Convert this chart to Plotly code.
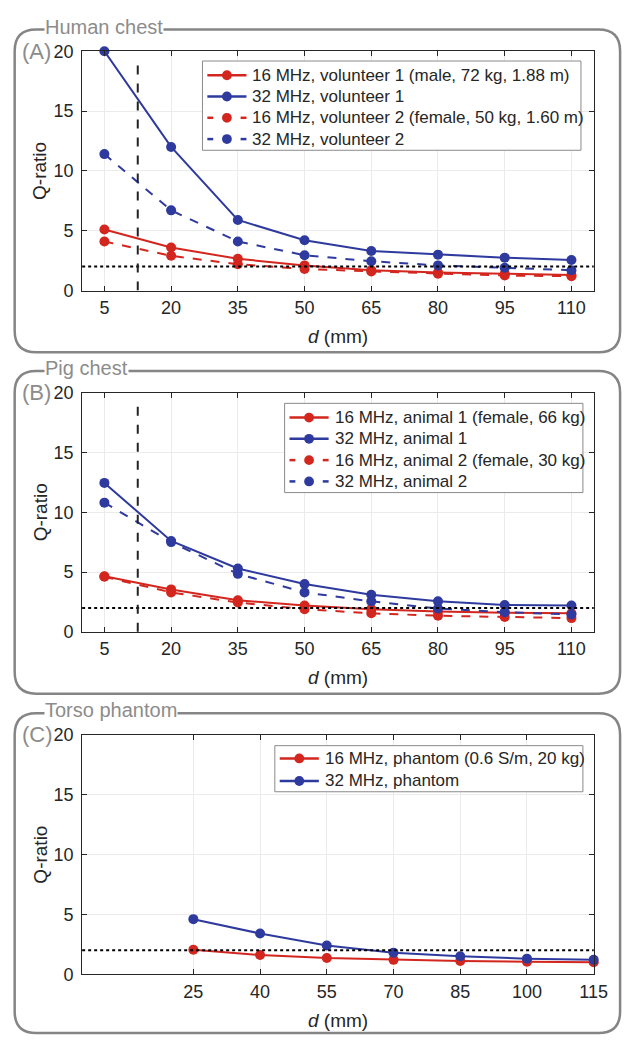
import plotly.graph_objects as go

# ---- data -------------------------------------------------------------
d_chest = [5, 20, 35, 50, 65, 80, 95, 110]
d_phantom = [25, 40, 55, 70, 85, 100, 115]

human_16_v1 = [5.1, 3.6, 2.65, 2.1, 1.7, 1.5, 1.4, 1.3]
human_32_v1 = [20.0, 12.0, 5.9, 4.2, 3.3, 3.0, 2.75, 2.55]
human_16_v2 = [4.1, 2.9, 2.2, 1.8, 1.6, 1.4, 1.25, 1.2]
human_32_v2 = [11.4, 6.7, 4.1, 2.95, 2.45, 2.1, 1.9, 1.7]

pig_16_a1 = [4.65, 3.55, 2.65, 2.2, 1.9, 1.7, 1.6, 1.55]
pig_32_a1 = [12.45, 7.6, 5.3, 4.0, 3.1, 2.55, 2.25, 2.2]
pig_16_a2 = [4.6, 3.3, 2.45, 1.9, 1.55, 1.35, 1.25, 1.15]
pig_32_a2 = [10.8, 7.5, 4.85, 3.3, 2.55, 1.95, 1.65, 1.45]

phantom_16 = [2.05, 1.6, 1.35, 1.2, 1.1, 1.05, 1.0]
phantom_32 = [4.6, 3.4, 2.4, 1.8, 1.5, 1.3, 1.2]

chest_ticks = [5, 20, 35, 50, 65, 80, 95, 110]
phantom_ticks = [25, 40, 55, 70, 85, 100, 115]
q_ticks = [0, 5, 10, 15, 20]

q_threshold = 2.0      # horizontal dotted reference
d_marker = 12.5        # vertical dashed reference (chest panels)
d_marker_top = 19.4

panel_titles = ["Human chest", "Pig chest", "Torso phantom"]
panel_letters = ["(A)", "(B)", "(C)"]

# ---- styling ----------------------------------------------------------
W, H = 638, 1046
RED = "#D3261E"
BLUE = "#2E3A9E"
INK = "#262626"
FRAME = "#858585"
FONT = "Liberation Sans, Arial, sans-serif"


def px_x(x):
    return x / W


def px_y(y):
    return 1 - y / H


# plot areas in pixels: (top, bottom)
plot_left, plot_right = 84, 607
rows = [(42, 286), (390, 634), (739, 983)]
frames = [(20, 349), (368, 697), (717, 1043)]
frame_left, frame_right = 15, 634
# legend boxes: (left, top, right, bottom, first-row offset, row pitch)
legend_boxes = [
    (207, 52, 594, 143, 14.5, 21.7),
    (291, 401, 596, 492, 14.5, 21.7),
    (281, 750, 596, 797, 13.0, 23.0),
]

fig = go.Figure()

series = [
    # (row, x, y, name, color, dash)
    (1, d_chest, human_16_v1, "16 MHz, volunteer 1 (male, 72 kg, 1.88 m)", RED, "solid"),
    (1, d_chest, human_32_v1, "32 MHz, volunteer 1", BLUE, "solid"),
    (1, d_chest, human_16_v2, "16 MHz, volunteer 2 (female, 50 kg, 1.60 m)", RED, "dash"),
    (1, d_chest, human_32_v2, "32 MHz, volunteer 2", BLUE, "dash"),
    (2, d_chest, pig_16_a1, "16 MHz, animal 1 (female, 66 kg)", RED, "solid"),
    (2, d_chest, pig_32_a1, "32 MHz, animal 1", BLUE, "solid"),
    (2, d_chest, pig_16_a2, "16 MHz, animal 2 (female, 30 kg)", RED, "dash"),
    (2, d_chest, pig_32_a2, "32 MHz, animal 2", BLUE, "dash"),
    (3, d_phantom, phantom_16, "16 MHz, phantom (0.6 S/m, 20 kg)", RED, "solid"),
    (3, d_phantom, phantom_32, "32 MHz, phantom", BLUE, "solid"),
]

for row, xs, ys, name, color, dash in series:
    sfx = "" if row == 1 else str(row)
    fig.add_trace(go.Scatter(
        x=xs, y=ys, name=name, mode="lines+markers",
        line=dict(color=color, width=2, dash=dash),
        marker=dict(color=color, size=10),
        xaxis="x" + sfx, yaxis="y" + sfx,
        showlegend=False, cliponaxis=False,
    ))

axis_common = dict(
    showline=True, linecolor=INK, linewidth=1, mirror="ticks",
    ticks="inside", ticklen=5, tickcolor=INK, tickwidth=1,
    showgrid=True, gridcolor="#ebebeb", gridwidth=1, zeroline=False,
    tickfont=dict(family=FONT, size=18, color=INK),
)

shapes, annotations = [], []
layout = dict(
    width=W, height=H, margin=dict(l=0, r=0, t=0, b=0),
    paper_bgcolor="white", plot_bgcolor="white",
    font=dict(family=FONT, color=INK), showlegend=False,
)

for i, (top, bottom) in enumerate(rows):
    sfx = "" if i == 0 else str(i + 1)
    ticks = phantom_ticks if i == 2 else chest_ticks
    layout["xaxis" + sfx] = dict(
        axis_common, domain=[px_x(plot_left), px_x(plot_right)],
        range=[0, 115], tickvals=ticks, ticklabelstandoff=1,
        anchor="y" + sfx,
    )
    layout["yaxis" + sfx] = dict(
        axis_common, domain=[px_y(bottom), px_y(top)],
        range=[0, 20], tickvals=q_ticks, ticklabelstandoff=4,
        anchor="x" + sfx,
    )

    xr, yr = "x" + sfx, "y" + sfx
    # threshold line across the full axis width
    shapes.append(dict(
        type="line", xref=xr + " domain", yref=yr,
        x0=0, x1=1, y0=q_threshold, y1=q_threshold,
        line=dict(color="black", width=2, dash="dot"), layer="above",
    ))
    if i < 2:
        shapes.append(dict(
            type="line", xref=xr, yref=yr,
            x0=d_marker, x1=d_marker, y0=0, y1=d_marker_top,
            line=dict(color="#222222", width=2, dash="dash"), layer="above",
        ))

    # rounded frame around the panel
    ftop, fbot = frames[i]
    r = 22
    x0, x1 = px_x(frame_left), px_x(frame_right)
    y0, y1 = px_y(fbot), px_y(ftop)
    rx, ry = r / W, r / H
    path = (
        f"M {x0 + rx},{y1} L {x1 - rx},{y1} Q {x1},{y1} {x1},{y1 - ry} "
        f"L {x1},{y0 + ry} Q {x1},{y0} {x1 - rx},{y0} "
        f"L {x0 + rx},{y0} Q {x0},{y0} {x0},{y0 + ry} "
        f"L {x0},{y1 - ry} Q {x0},{y1} {x0 + rx},{y1} Z"
    )
    shapes.append(dict(
        type="path", xref="paper", yref="paper", path=path,
        line=dict(color=FRAME, width=2.5), layer="below",
    ))

    # legend box with line/marker samples
    lx0, ly0, lx1, ly1, first, pitch = legend_boxes[i]
    shapes.append(dict(
        type="rect", xref="paper", yref="paper",
        x0=px_x(lx0), x1=px_x(lx1), y0=px_y(ly1), y1=px_y(ly0),
        fillcolor="white", line=dict(color="#8a8a8a", width=1), layer="above",
    ))
    entries = [s for s in series if s[0] == i + 1]
    for k, (_, _, _, name, color, dash) in enumerate(entries):
        cy = ly0 + first + k * pitch
        sx0, sx1 = lx0 + 5, lx0 + 45
        mx = (sx0 + sx1) / 2
        if dash == "solid":
            segs = [(sx0, sx1)]
        else:
            segs = [(sx0, sx0 + 6), (sx1 - 6, sx1)]
        for a, b in segs:
            shapes.append(dict(
                type="line", xref="paper", yref="paper",
                x0=px_x(a), x1=px_x(b), y0=px_y(cy), y1=px_y(cy),
                line=dict(color=color, width=2.5), layer="above",
            ))
        shapes.append(dict(
            type="circle", xref="paper", yref="paper",
            x0=px_x(mx - 5), x1=px_x(mx + 5), y0=px_y(cy + 5), y1=px_y(cy - 5),
            fillcolor=color, line=dict(color=color, width=0), layer="above",
        ))
        annotations.append(dict(
            text=name, xref="paper", yref="paper",
            x=px_x(lx0 + 49), y=px_y(cy), xanchor="left", yanchor="middle",
            showarrow=False, font=dict(family=FONT, size=17, color=INK),
        ))

    # panel title sitting on the frame line
    annotations.append(dict(
        text=panel_titles[i], xref="paper", yref="paper",
        x=px_x(45), y=px_y(ftop - 3), xanchor="left", yanchor="middle",
        showarrow=False, bgcolor="white", borderpad=0,
        font=dict(family=FONT, size=20, color="#8c8c8c"),
    ))
    # panel letter
    annotations.append(dict(
        text=panel_letters[i], xref="paper", yref="paper",
        x=px_x(20), y=px_y(top), xanchor="left", yanchor="middle",
        showarrow=False, font=dict(family=FONT, size=22, color="#8c8c8c"),
    ))
    # axis titles
    annotations.append(dict(
        text="Q-ratio", xref="paper", yref="paper",
        x=px_x(41), y=px_y((top + bottom) / 2), textangle=-90,
        xanchor="center", yanchor="middle", showarrow=False,
        font=dict(family=FONT, size=19, color=INK),
    ))
    annotations.append(dict(
        text="<i>d</i> (mm)", xref="paper", yref="paper",
        x=px_x((plot_left + plot_right) / 2), y=px_y(bottom + 47),
        xanchor="center", yanchor="middle", showarrow=False,
        font=dict(family=FONT, size=19, color=INK),
    ))

layout["shapes"] = shapes
layout["annotations"] = annotations
fig.update_layout(**layout)
# the figure fills the page exactly, so drop the default body margin
fig.write_html("out.html", post_script="document.body.style.margin='0';")
